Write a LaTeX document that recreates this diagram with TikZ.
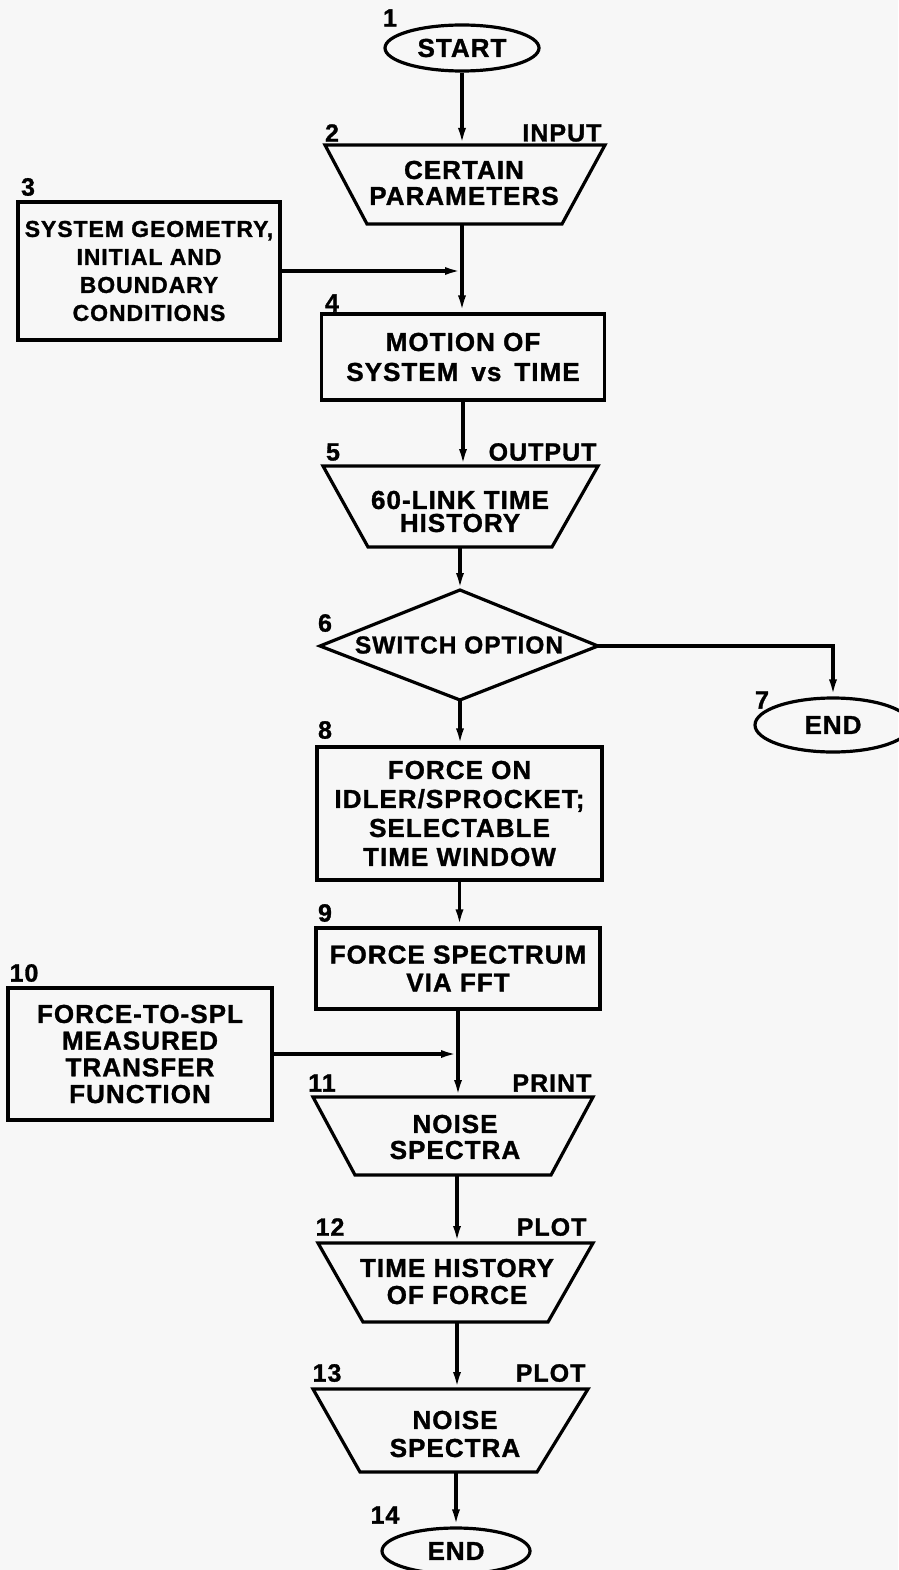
\documentclass[tikz,border=0pt]{standalone}
\usepackage{fontspec}
\setmainfont{Liberation Sans}[BoldFeatures={FakeBold=1.2,LetterSpace=4}]
\usetikzlibrary{arrows.meta,shapes.geometric}
\begin{document}
\begin{tikzpicture}[x=1pt,y=-1pt,
  line width=3.2pt, line join=miter,
  arr/.style={-{Latex[length=17pt,width=8pt]}},
  fsz/.style={font=\bfseries\fontsize{26pt}{#1}\selectfont},
  box/.style={draw, rectangle, align=center, inner sep=0pt, fsz=28pt},
  oval/.style={draw, ellipse, inner sep=0pt, fsz=28pt},
  txt/.style={align=center, inner sep=0pt, fsz=#1},
  lbl/.style={inner sep=0pt, font=\bfseries\fontsize{25pt}{25pt}\selectfont},
]
\fill[black!3] (0,0) rectangle (898,1570);
\useasboundingbox (0,0) rectangle (898,1570);

% 1 START
\node[oval, minimum width=154pt, minimum height=46pt] (n1) at (462,48) {START};
\node[lbl] (l1) at (390,18) {1};

% 2 input trapezoid
\draw (325,145) -- (605,145) -- (562,224) -- (367,224) -- cycle;
\coordinate (t2top) at (462,145);
\coordinate (t2bot) at (462,224);
\node[txt=26pt] (n2) at (464,183) {CERTAIN\\PARAMETERS};
\node[lbl] (l2) at (332,133) {2};
\node[lbl, anchor=east] (l2b) at (603,133) {INPUT};

% 3
\node[box, minimum width=262pt, minimum height=138pt,
      font=\bfseries\fontsize{23pt}{28pt}\selectfont] (n3) at (149,271)
  {SYSTEM GEOMETRY,\\INITIAL AND\\BOUNDARY\\CONDITIONS};
\node[lbl] (l3) at (28,187) {3};

% 4
\node[box, minimum width=283pt, minimum height=86pt, fsz=30pt] (n4) at (463,357)
  {MOTION OF\\SYSTEM\hspace{0.5em}vs\hspace{0.5em}TIME};
\node[lbl] (l4) at (332,303) {4};

% 5 output trapezoid
\draw (323,466) -- (598,466) -- (552,547) -- (368,547) -- cycle;
\coordinate (t5top) at (460,466);
\coordinate (t5bot) at (460,547);
\node[txt=23pt] (n5) at (460,511.5) {60-LINK TIME\\HISTORY};
\node[lbl] (l5) at (333,452) {5};
\node[lbl, anchor=east] (l5b) at (598,452) {OUTPUT};

% 6 diamond
\draw (460,590) -- (598,646) -- (460,700) -- (320,646) -- cycle;
\coordinate (d6top) at (460,590);
\coordinate (d6right) at (598,646);
\coordinate (d6bot) at (460,700);
\node[inner sep=0pt, font=\bfseries\fontsize{24.5pt}{26pt}\selectfont] (n6) at (459,645) {SWITCH OPTION};
\node[lbl] (l6) at (325,623) {6};

% 7 END
\node[oval, minimum width=156pt, minimum height=54pt] (n7) at (833,725) {END};
\node[lbl] (l7) at (762,700) {7};

% 8
\node[box, minimum width=285pt, minimum height=133pt, fsz=29pt] (n8) at (459.5,813.5)
  {FORCE ON\\IDLER/SPROCKET;\\SELECTABLE\\TIME WINDOW};
\node[lbl] (l8) at (325,730) {8};

% 9
\node[box, minimum width=284pt, minimum height=81pt, fsz=28pt] (n9) at (458,968.5)
  {FORCE SPECTRUM\\VIA FFT};
\node[lbl] (l9) at (325,913) {9};

% 10
\node[box, minimum width=264pt, minimum height=132pt, fsz=26.7pt] (n10) at (140,1054)
  {FORCE-TO-SPL\\MEASURED\\TRANSFER\\FUNCTION};
\node[lbl] (l10) at (24,973) {10};

% 11 print trapezoid
\draw (313,1097) -- (593,1097) -- (551,1175) -- (355,1175) -- cycle;
\coordinate (t11top) at (457,1097);
\coordinate (t11bot) at (457,1175);
\node[txt=26pt] (n11) at (455,1137) {NOISE\\SPECTRA};
\node[lbl] (l11) at (322,1083) {11};
\node[lbl, anchor=east] (l11b) at (593,1083) {PRINT};

% 12 plot trapezoid
\draw (318,1243) -- (593,1243) -- (548,1322) -- (363,1322) -- cycle;
\coordinate (t12top) at (457,1243);
\coordinate (t12bot) at (457,1322);
\node[txt=27pt] (n12) at (457,1281.5) {TIME HISTORY\\OF FORCE};
\node[lbl] (l12) at (330,1227) {12};
\node[lbl, anchor=east] (l12b) at (588,1227) {PLOT};

% 13 plot trapezoid
\draw (313,1389) -- (588,1389) -- (537,1472) -- (360,1472) -- cycle;
\coordinate (t13top) at (456,1389);
\coordinate (t13bot) at (456,1472);
\node[txt=28pt] (n13) at (455,1434) {NOISE\\SPECTRA};
\node[lbl] (l13) at (327,1373) {13};
\node[lbl, anchor=east] (l13b) at (587,1373) {PLOT};

% 14 END
\node[oval, minimum width=148pt, minimum height=46pt] (n14) at (456,1551) {END};
\node[lbl] (l14) at (385,1515) {14};

% connectors
\draw[arr] (n1.south) -- (n1.south |- t2top);
\draw[arr] (t2bot) -- (t2bot |- n4.north);
\draw[arr] (n3.east) -- (n3.east -| t2bot);
\draw[arr] (n4.south) -- (n4.south |- t5top);
\draw[arr] (t5bot) -- (d6top);
\draw[arr] (d6right) -| (n7.north);
\draw[arr] (d6bot) -- (d6bot |- n8.north);
\draw[arr] (n8.south) -- (n8.south |- n9.north);
\draw[arr] (n9.south) -- (n9.south |- t11top);
\draw[arr] (n10.east) -- (n10.east -| n9.south);
\draw[arr] (t11bot) -- (t12top);
\draw[arr] (t12bot) -- (t12bot |- t13top);
\draw[arr] (t13bot) -- (t13bot |- n14.north);
\end{tikzpicture}
\end{document}
